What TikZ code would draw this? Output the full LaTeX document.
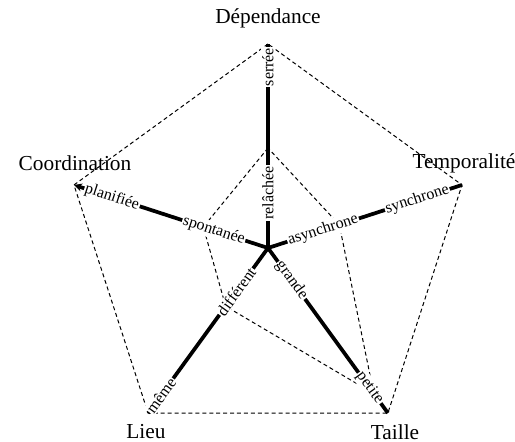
\documentclass[tikz,border=0pt]{standalone}
\usepackage{fontspec}
\setmainfont{Liberation Serif}
\usetikzlibrary{arrows.meta}
\begin{document}
\begin{tikzpicture}[x=0.75pt, y=0.75pt,
		axis/.style={line width=2.8pt},
		grid/.style={dash pattern=on 3pt off 2.2pt, line width=0.75pt},
		valueLabel/.style={fill=white, inner sep=0.8pt, font=\fontsize{12}{14}\selectfont},
		axisName/.style={font=\fontsize{16}{19}\selectfont}]
			\useasboundingbox (-268,-194) rectangle (247,248);

			\coordinate (center) at (0,0);
			\coordinate (depEnd) at (90:204);
			\coordinate (coordEnd) at (162:204);
			\coordinate (lieuEnd) at (234:204);
			\coordinate (tailleEnd) at (306:204);
			\coordinate (tempEnd) at (18:204);

			\coordinate (depVal) at (90:100);
			\coordinate (coordVal) at (162:68);
			\coordinate (lieuVal) at (234:72);
			\coordinate (tailleVal) at (306:180);
			\coordinate (tempVal) at (18:75);

			\draw[grid] (depEnd) -- (coordEnd) -- (lieuEnd) -- (tailleEnd) -- (tempEnd) -- cycle;
			\draw[grid] (depVal) -- (coordVal) -- (lieuVal) -- (tailleVal) -- (tempVal) -- cycle;

			\draw[axis] (center) -- (depEnd);
			\draw[axis, -{Stealth[length=6pt, width=6pt]}] (center) -- (coordEnd);
			\draw[axis] (center) -- (lieuEnd);
			\draw[axis] (center) -- (tailleEnd);
			\draw[axis] (center) -- (tempEnd);

			\node[valueLabel, rotate=90](relacheeLabel) at (90:55){relâchée};
			\node[valueLabel, rotate=90](serreeLabel) at (90:181){serrée};
			\node[valueLabel, rotate=-18](spontaneeLabel) at (162:57){spontanée};
			\node[valueLabel, rotate=-18](planifieeLabel) at (162:164){planifiée};
			\node[valueLabel, rotate=18](asynchroneLabel) at (18:58){asynchrone};
			\node[valueLabel, rotate=18](synchroneLabel) at (18:157){synchrone};
			\node[valueLabel, rotate=54](differentLabel) at (234:54){différent};
			\node[valueLabel, rotate=54](memeLabel) at (234:182){même};
			\node[valueLabel, rotate=-54](grandeLabel) at (306:40){grande};
			\node[valueLabel, rotate=-54](petiteLabel) at (306:173){petite};

			\node[axisName](depName) at (0,230){Dépendance};
			\node[axisName](coordName) at (-193,85){Coordination};
			\node[axisName](tempName) at (196,85){Temporalité};
			\node[axisName](lieuName) at (-122,-184){Lieu};
			\node[axisName](tailleName) at (127,-184){Taille};
		\end{tikzpicture}
\end{document}
